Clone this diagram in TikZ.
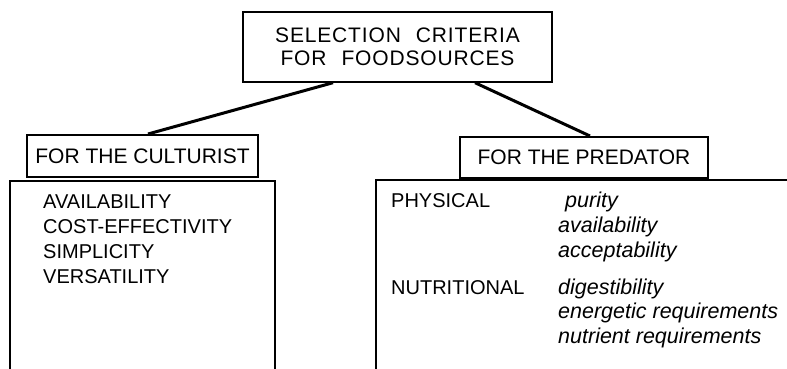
\documentclass[tikz,border=0pt]{standalone}
\usepackage{fontspec}
\setmainfont{Liberation Sans}
\newfontfamily\topfont{Liberation Sans}[LetterSpace=4]
\begin{document}
\begin{tikzpicture}[x=1pt,y=-1pt,
  box/.style={draw, line width=2pt, inner sep=0pt, align=center},
  hdrtxt/.style={font=\fontsize{21}{23}\selectfont},
  item/.style={anchor=base west, inner sep=0pt, font=\fontsize{20}{24}\selectfont},
  ital/.style={anchor=base west, inner sep=0pt, font=\fontsize{21.5}{24}\selectfont\itshape},
  conn/.style={line width=3pt}]
\useasboundingbox (0,0) rectangle (787,369);

% top box
\node[box, minimum width=309pt, minimum height=70pt,
      font=\topfont\fontsize{21}{22.7}\selectfont] (top) at (397.5,46.7)
      {SELECTION\hspace{15pt}CRITERIA\\FOR\hspace{15pt}FOODSOURCES};

% header boxes
\node[box, hdrtxt, minimum width=231.6pt, minimum height=42pt] (cult) at (142.5,156) {FOR THE CULTURIST};
\node[box, hdrtxt, minimum width=248pt, minimum height=41pt] (pred) at (584,157.5) {FOR THE PREDATOR};

% connectors
\draw[conn] ([xshift=-64.5pt]top.south) -- ([xshift=5.5pt]cult.north);
\draw[conn] ([xshift=77.5pt]top.south) -- ([xshift=6pt]pred.north);

% content frames (open at bottom)
\draw[line width=2pt] (10,369) -- (10,181) -- (275,181) -- (275,369);
\draw[line width=2pt] (376,369) -- (376,180) -- (788,180);

% culturist items
\node[item] (c1) at (43,208.3) {AVAILABILITY};
\node[item] (c2) at (43,233.3) {COST-EFFECTIVITY};
\node[item] (c3) at (43,258.3) {SIMPLICITY};
\node[item] (c4) at (43,283.3) {VERSATILITY};

% predator items
\node[item] (p1) at (391,207) {PHYSICAL};
\node[ital] (p1a) at (565,207) {purity};
\node[ital] (p1b) at (558,232.5) {availability};
\node[ital] (p1c) at (558,257) {acceptability};
\node[item] (p2) at (391,294) {NUTRITIONAL};
\node[ital] (p2a) at (558,294) {digestibility};
\node[ital] (p2b) at (558,318.5) {energetic requirements};
\node[ital] (p2c) at (558,343) {nutrient requirements};
\end{tikzpicture}
\end{document}
